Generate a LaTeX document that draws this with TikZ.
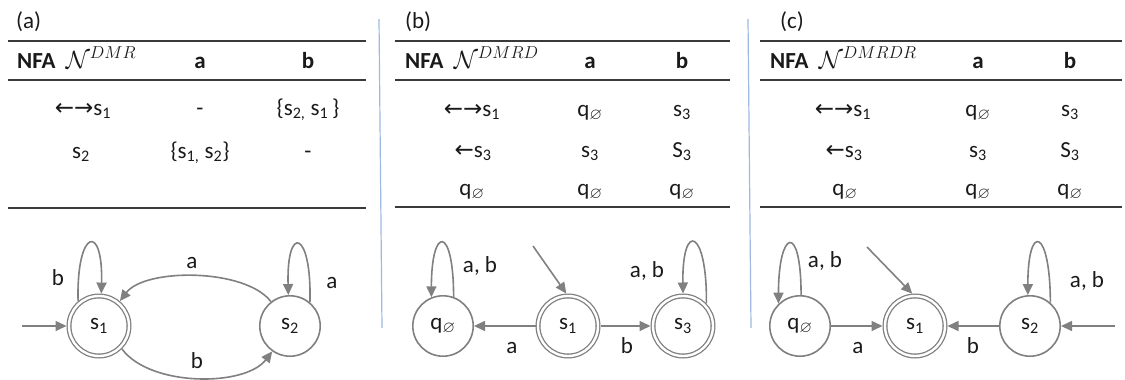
\documentclass[tikz,border=0pt]{standalone}
\usepackage{fontspec}
\usepackage{amsmath,amssymb}
\setmainfont{Carlito}
\newfontfamily\arrowfont{DejaVu Sans}
\usetikzlibrary{arrows.meta}

\definecolor{edgegray}{HTML}{808080}
\definecolor{rulegray}{HTML}{3A3A3A}
\definecolor{sepblue}{HTML}{9DB8E2}
\definecolor{txt}{HTML}{1A1A1A}

% small helpers for the table entries
\newcommand\larr{{\arrowfont ←}}
\newcommand\rarr{{\arrowfont →}}
\newcommand\qe{q\textsubscript{$\varnothing$}}
\newcommand\st[1]{s\textsubscript{#1}}

\tikzset{
  big/.style={font=\fontsize{23}{27}\selectfont, text=txt},
  cell/.style={big, anchor=base, inner sep=0pt},
  head/.style={big, anchor=base west, inner sep=0pt},
  hrule/.style={draw=rulegray, line width=1.6pt},
  sep/.style={draw=sepblue, line width=1.2pt},
  state/.style={circle, draw=edgegray, line width=1.6pt, minimum size=60.4pt,
                inner sep=0pt, big},
  accept/.style={state, double=white, double distance=2.4pt, line width=1.3pt,
                 minimum size=60pt, outer sep=2.5pt},
  edge/.style={draw=edgegray, line width=1.6pt,
               -{Triangle[length=11pt,width=10pt]}},
  lab/.style={big, anchor=base, inner sep=0pt},
}

\begin{document}
\begin{tikzpicture}[x=1pt, y=-1pt]
\useasboundingbox (0,0) rectangle (1125,380);

% ---------- separators ----------
\draw[sep] (379,19) -- (382,328);
\draw[sep] (748,19) -- (751,328);

% ================= panel (a) =================
\node[big, anchor=west, inner sep=0pt] (ta) at (16,22) {(a)};
\draw[hrule] (8,41) -- (366,41);
\draw[hrule] (8,80) -- (366,80);
\draw[hrule] (8,208) -- (366,208);
\node[head] (ha) at (17,68) {\textbf{NFA}\hspace{0.45em}$\mathcal{N}^{DMR}$};
\node[cell] (haa) at (200,68) {\textbf{a}};
\node[cell] (hab) at (308,68) {\textbf{b}};
\node[cell] (a11) at (83,115) {\larr\rarr\st{1}};
\node[cell] (a12) at (200,115) {-};
\node[cell] (a13) at (308,115) {\{\st{2,} \st{1}\,\}};
\node[cell] (a21) at (81,158) {\st{2}};
\node[cell] (a22) at (200,158) {\{\st{1,} \st{2}\}};
\node[cell] (a23) at (308,158) {-};

\node[accept] (s1a) at (99,326) {\st{1}};
\node[state]  (s2a) at (290,326) {\st{2}};
\coordinate (ia) at (22,326);
\draw[edge] (ia) -- (s1a);
\draw[edge] (s1a.130) .. controls +(-2,-72) and +(2,-72) .. (s1a.86);
\draw[edge] (s2a.50) .. controls +(2,-72) and +(-2,-72) .. (s2a.93);
\draw[edge] (s2a.128) .. controls (245,268) and (145,268) .. (s1a.50);
\draw[edge] (s1a.-45) .. controls (150,387) and (245,387) .. (s2a.-125);
\node[lab] (la1) at (58,285) {b};
\node[lab] (la2) at (332,288) {a};
\node[lab] (la3) at (192,268) {a};
\node[lab] (la4) at (197,368) {b};

% ================= panel (b) =================
\node[big, anchor=west, inner sep=0pt] (tb) at (405,22) {(b)};
\draw[hrule] (395,41) -- (730,41);
\draw[hrule] (395,80) -- (730,80);
\draw[hrule] (395,207) -- (730,207);
\node[head] (hb) at (405,68) {\textbf{NFA}\hspace{0.45em}$\mathcal{N}^{DMRD}$};
\node[cell] (hba) at (590,68) {\textbf{a}};
\node[cell] (hbb) at (682,68) {\textbf{b}};
\node[cell] (b11) at (472,116) {\larr\rarr\st{1}};
\node[cell] (b12) at (590,116) {\qe};
\node[cell] (b13) at (682,116) {\st{3}};
\node[cell] (b21) at (473,157) {\larr\st{3}};
\node[cell] (b22) at (590,157) {\st{3}};
\node[cell] (b23) at (682,157) {S\textsubscript{3}};
\node[cell] (b31) at (472,195) {\qe};
\node[cell] (b32) at (590,195) {\qe};
\node[cell] (b33) at (682,195) {\qe};

\node[state]  (qb)  at (443,326) {\qe};
\node[accept] (s1b) at (568,326) {\st{1}};
\node[accept] (s3b) at (683,326) {\st{3}};
\coordinate (ib) at (533,246);
\draw[edge] (ib) -- (s1b.93);
\draw[edge] (s1b) -- (qb);
\draw[edge] (s1b) -- (s3b);
\draw[edge] (qb.70) .. controls +(0,-72) and +(0,-72) .. (qb.112);
\draw[edge] (s3b.44) .. controls +(1,-74) and +(-1,-74) .. (s3b.90);
\node[lab] (lb1) at (480,272) {a, b};
\node[lab] (lb2) at (647,277) {a, b};
\node[lab] (lb3) at (512,353) {a};
\node[lab] (lb4) at (627,353) {b};

% ================= panel (c) =================
\node[big, anchor=west, inner sep=0pt] (tc) at (780,22) {(c)};
\draw[hrule] (760,41) -- (1122,41);
\draw[hrule] (760,80) -- (1122,80);
\draw[hrule] (760,207) -- (1122,207);
\node[head] (hc) at (770,68) {\textbf{NFA}\hspace{0.45em}$\mathcal{N}^{DMRDR}$};
\node[cell] (hca) at (978,68) {\textbf{a}};
\node[cell] (hcb) at (1070,68) {\textbf{b}};
\node[cell] (c11) at (843,116) {\larr\rarr\st{1}};
\node[cell] (c12) at (978,116) {\qe};
\node[cell] (c13) at (1070,116) {\st{3}};
\node[cell] (c21) at (844,157) {\larr\st{3}};
\node[cell] (c22) at (978,157) {\st{3}};
\node[cell] (c23) at (1070,157) {S\textsubscript{3}};
\node[cell] (c31) at (845,195) {\qe};
\node[cell] (c32) at (978,195) {\qe};
\node[cell] (c33) at (1070,195) {\qe};

\node[state]  (qc)  at (800,326) {\qe};
\node[accept] (s1c) at (915,326) {\st{1}};
\node[state]  (s2c) at (1030,326) {\st{2}};
\coordinate (ic1) at (867,247);
\coordinate (ic2) at (1115,326);
\draw[edge] (ic1) -- (s1c.95);
\draw[edge] (ic2) -- (s2c);
\draw[edge] (qc) -- (s1c);
\draw[edge] (s2c) -- (s1c);
\draw[edge] (qc.88) .. controls +(0,-74) and +(0,-74) .. (qc.134);
\draw[edge] (s2c.49) .. controls +(0,-74) and +(0,-74) .. (s2c.94);
\node[lab] (lc1) at (825,267) {a, b};
\node[lab] (lc2) at (1087,287) {a, b};
\node[lab] (lc3) at (858,353) {a};
\node[lab] (lc4) at (973,353) {b};
\end{tikzpicture}
\end{document}
